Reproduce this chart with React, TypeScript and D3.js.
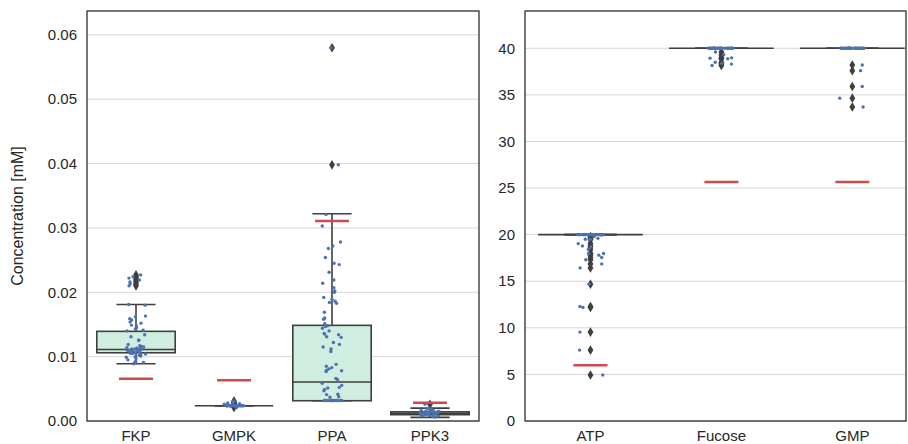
import React from "react";
import * as d3 from "d3";

// ---------- data ----------
const leftCategories = ["FKP", "GMPK", "PPA", "PPK3"];
const leftTicks = [0, 0.01, 0.02, 0.03, 0.04, 0.05, 0.06];
const leftQ1 = [0.0106, 0.00238, 0.00315, 0.00098];
const leftMedian = [0.0111, 0.00238, 0.00606, 0.0012];
const leftQ3 = [0.01393, 0.00238, 0.01486, 0.00142];
const leftWhiskerLo = [0.0089, 0.00238, 0.00315, 0.00057];
const leftWhiskerHi = [0.0181, 0.00238, 0.0322, 0.002];
const leftReference = [0.00657, 0.00632, 0.03106, 0.00284];

const fkpValues = [
  0.0227, 0.0224, 0.0222, 0.0219, 0.0216, 0.0213, 0.021,
  0.0181, 0.018, 0.0163, 0.0162, 0.0159, 0.0157, 0.0154, 0.0152, 0.0149, 0.0148, 0.0145, 0.0143, 0.0141, 0.014,
  0.0134, 0.0131, 0.0126, 0.0125, 0.0119, 0.0117,
  0.0116, 0.0115, 0.0114, 0.0113, 0.0113, 0.0112, 0.0112, 0.0111, 0.0111, 0.011, 0.011, 0.011, 0.0109, 0.0109,
  0.0108, 0.0108, 0.0107, 0.0107, 0.0106, 0.0106, 0.0105, 0.0105, 0.0104, 0.0103, 0.0102, 0.0101, 0.01, 0.0099,
  0.0097, 0.0095, 0.0093, 0.0091, 0.009, 0.0089,
];
const gmpkValues = [
  0.0031, 0.0029, 0.0028, 0.0027, 0.0026, 0.0025, 0.0021,
  0.00238, 0.00238, 0.00238, 0.00238, 0.00238, 0.00238, 0.00238, 0.00238, 0.00238, 0.00238,
  0.00238, 0.00238, 0.00238, 0.00238, 0.00238, 0.00238, 0.00238, 0.00238,
];
const ppaValues = [
  0.058, 0.0398, 0.0321, 0.0303, 0.0278, 0.0272, 0.0268, 0.0254, 0.0245, 0.0243, 0.0231, 0.0219, 0.0214,
  0.0207, 0.0202, 0.02, 0.0192, 0.0189, 0.0186, 0.0184, 0.0183, 0.0169, 0.016, 0.0158, 0.0151, 0.0148,
  0.0147, 0.0144, 0.014, 0.0136, 0.0135, 0.0134, 0.0131, 0.013, 0.0122, 0.0119, 0.0115, 0.0112, 0.0108,
  0.0088, 0.0085, 0.0083, 0.0081, 0.0079, 0.0078, 0.0077, 0.0066, 0.0064, 0.00585, 0.00554, 0.00523,
  0.00512, 0.0049, 0.0047, 0.00415, 0.0041, 0.00378, 0.0037,
  0.00318, 0.00318, 0.00318, 0.00318, 0.00318, 0.00318, 0.00318, 0.00318, 0.00318, 0.00318, 0.00318,
  0.00318, 0.00318, 0.00318, 0.00318,
];
const ppk3Values = [
  0.0026, 0.002, 0.0019, 0.0018, 0.0017, 0.0017, 0.0016, 0.0016, 0.0015, 0.0015, 0.0015, 0.0014, 0.0014,
  0.0014, 0.0013, 0.0013, 0.0013, 0.0013, 0.0012, 0.0012, 0.0012, 0.0012, 0.0012, 0.0011, 0.0011, 0.0011,
  0.0011, 0.001, 0.001, 0.001, 0.001, 0.0009, 0.0009, 0.0009, 0.0008, 0.0008, 0.0007, 0.0006,
];

const rightCategories = ["ATP", "Fucose", "GMP"];
const rightTicks = [0, 5, 10, 15, 20, 25, 30, 35, 40];
const rightQ1 = [20, 40, 40];
const rightMedian = [20, 40, 40];
const rightQ3 = [20, 40, 40];
const rightWhiskerLo = [20, 40, 40];
const rightWhiskerHi = [20, 40, 40];
const rightReference = [5.97, 25.65, 25.65];

const atpValues = [
  20, 20, 20, 20, 20, 20, 20, 20, 20, 20, 20, 20, 20, 20, 20, 20, 20, 20, 20, 20, 20, 20, 20, 20, 20, 20, 20, 20,
  19.8, 19.6, 19.5, 19.5, 19.04, 18.79, 18.68, 18.4, 17.97, 17.97, 17.8, 17.54, 17.3, 16.86, 16.43,
  14.68, 12.29, 12.19, 9.54, 7.61, 4.93,
];
const fucoseValues = [
  40, 40, 40, 40, 40, 40, 40, 40, 40, 40, 40, 40, 40, 40, 40, 40, 40, 40, 40, 40, 40, 40, 40, 40, 40,
  39.6, 39.3, 38.97, 38.94, 38.87, 38.5, 38.4, 38.3, 38.15,
];
const gmpValues = [
  40, 40, 40, 40, 40, 40, 40, 40, 40, 40, 40, 40, 40, 40, 40, 40, 40, 40, 40, 40, 40, 40, 40, 40, 40,
  38.2, 37.6, 35.9, 34.65, 33.7,
];

// ---------- styling ----------
const W = 908;
const H = 444;
const FONT = "'Liberation Sans', Arial, sans-serif";
const BOX_FILL = "#d0eedf";
const LINE = "#3f3f3f";
const POINT = "#4c72b0";
const RED = "#cd4a4e";
const GRID = "#d6d6d6";
const SPINE = "#262626";
const TEXT = "#262626";

type PanelProps = {
  left: number;
  right: number;
  top: number;
  bottom: number;
  xDomain: [number, number];
  yDomain: [number, number];
  categories: string[];
  ticks: number[];
  tickFormat: (v: number) => string;
  q1: number[];
  med: number[];
  q3: number[];
  wlo: number[];
  whi: number[];
  ref: number[];
  values: number[][];
  seed: number;
};

function diamond(cx: number, cy: number) {
  const hw = 2.9;
  const hh = 4.8;
  return `M${cx},${cy - hh}L${cx + hw},${cy}L${cx},${cy + hh}L${cx - hw},${cy}Z`;
}

function Panel(p: PanelProps) {
  const x = d3.scaleLinear().domain(p.xDomain).range([p.left, p.right]);
  const y = d3.scaleLinear().domain(p.yDomain).range([p.bottom, p.top]);
  const unit = x(1) - x(0);
  const boxW = 0.8 * unit;
  const capW = boxW / 2;
  const refW = 34;
  const rng = d3.randomUniform.source(d3.randomLcg(p.seed))(-0.1, 0.1);

  return (
    <g>
      {p.ticks.map((t) => (
        <line key={"g" + t} x1={p.left} x2={p.right} y1={y(t)} y2={y(t)} stroke={GRID} strokeWidth={1} />
      ))}
      {p.ticks.map((t) => (
        <text
          key={"t" + t}
          x={p.left - 10}
          y={y(t)}
          dy="0.35em"
          textAnchor="end"
          fontSize={15}
          fontFamily={FONT}
          fill={TEXT}
        >
          {p.tickFormat(t)}
        </text>
      ))}
      {p.categories.map((c, i) => (
        <text key={"c" + c} x={x(i)} y={441} textAnchor="middle" fontSize={15} fontFamily={FONT} fill={TEXT}>
          {c}
        </text>
      ))}
      {p.categories.map((c, i) => (
        <rect
          key={"b" + c}
          x={x(i) - boxW / 2}
          y={y(p.q3[i])}
          width={boxW}
          height={Math.max(0, y(p.q1[i]) - y(p.q3[i]))}
          fill={BOX_FILL}
          stroke={LINE}
          strokeWidth={1.6}
        />
      ))}
      {p.categories.map((c, i) => (
        <g key={"w" + c} stroke={LINE} strokeWidth={1.6}>
          <line x1={x(i)} x2={x(i)} y1={y(p.q3[i])} y2={y(p.whi[i])} />
          <line x1={x(i)} x2={x(i)} y1={y(p.q1[i])} y2={y(p.wlo[i])} />
          <line x1={x(i) - capW / 2} x2={x(i) + capW / 2} y1={y(p.whi[i])} y2={y(p.whi[i])} />
          <line x1={x(i) - capW / 2} x2={x(i) + capW / 2} y1={y(p.wlo[i])} y2={y(p.wlo[i])} />
          <line x1={x(i) - boxW / 2} x2={x(i) + boxW / 2} y1={y(p.med[i])} y2={y(p.med[i])} />
        </g>
      ))}
      {p.values.map((vals, i) =>
        vals
          .filter((v) => v > p.whi[i] + 1e-9 || v < p.wlo[i] - 1e-9)
          .map((v, k) => <path key={"f" + i + "-" + k} d={diamond(x(i), y(v))} fill={LINE} />)
      )}
      {p.values.map((vals, i) =>
        vals.map((v, k) => (
          <circle key={"p" + i + "-" + k} cx={x(i + rng())} cy={y(v)} r={1.7} fill={POINT} />
        ))
      )}
      {p.ref.map((r, i) => (
        <line
          key={"r" + i}
          x1={x(i) - refW / 2}
          x2={x(i) + refW / 2}
          y1={y(r)}
          y2={y(r)}
          stroke={RED}
          strokeWidth={2.5}
        />
      ))}
      <rect
        x={p.left}
        y={p.top}
        width={p.right - p.left}
        height={p.bottom - p.top}
        fill="none"
        stroke={SPINE}
        strokeWidth={1.25}
      />
    </g>
  );
}

export default function App() {
  return (
    <svg
      width={W}
      height={H}
      style={{ position: "absolute", left: 0, top: 0, background: "#fff" }}
    >
      <rect x={0} y={0} width={W} height={H} fill="#fff" />
      <Panel
        left={87}
        right={479}
        top={11}
        bottom={421}
        xDomain={[-0.5, 3.5]}
        yDomain={[0, 0.0637]}
        categories={leftCategories}
        ticks={leftTicks}
        tickFormat={(v) => d3.format(".2f")(v)}
        q1={leftQ1}
        med={leftMedian}
        q3={leftQ3}
        wlo={leftWhiskerLo}
        whi={leftWhiskerHi}
        ref={leftReference}
        values={[fkpValues, gmpkValues, ppaValues, ppk3Values]}
        seed={0.42}
      />
      <Panel
        left={525}
        right={906}
        top={11}
        bottom={421}
        xDomain={[-0.5, 2.41]}
        yDomain={[0, 44]}
        categories={rightCategories}
        ticks={rightTicks}
        tickFormat={(v) => String(v)}
        q1={rightQ1}
        med={rightMedian}
        q3={rightQ3}
        wlo={rightWhiskerLo}
        whi={rightWhiskerHi}
        ref={rightReference}
        values={[atpValues, fucoseValues, gmpValues]}
        seed={0.17}
      />
      <text
        transform={`translate(${23},${216}) rotate(-90)`}
        textAnchor="middle"
        fontSize={16}
        fontFamily={FONT}
        fill={TEXT}
      >
        Concentration [mM]
      </text>
    </svg>
  );
}
